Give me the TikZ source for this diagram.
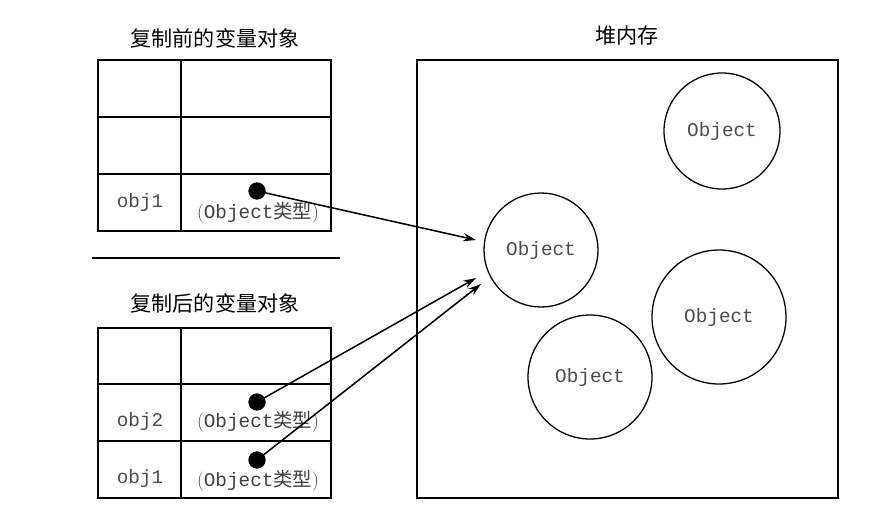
\documentclass[tikz,border=0pt]{standalone}
\usepackage{fontspec}
\newfontfamily\cjk{Noto Sans CJK SC}
\newfontfamily\mono{Liberation Mono}
\usetikzlibrary{arrows.meta}
\begin{document}
\begin{tikzpicture}[x=0.03cm,y=-0.03cm,
  cell/.style={draw,line width=1.1pt},
  mt/.style={font=\mono\fontsize{16.5}{16.5}\selectfont,text=black!70},
  ty/.style={font=\fontsize{16.5}{16.5}\selectfont,text=black!75,inner sep=0pt},
  ttl/.style={font=\cjk\fontsize{18}{18}\selectfont},
  obj/.style={draw,circle,line width=1.1pt,font=\mono\fontsize{16.5}{16.5}\selectfont,text=black!70},
  dot/.style={circle,fill=black,inner sep=0pt,minimum size=0.52cm},
  arr/.style={-{Stealth[length=11pt,width=7pt]},line width=1.3pt,shorten <=-2pt}]
\useasboundingbox (0,0) rectangle (880,526);
\node[ttl] (t1) at (215,38) {复制前的变量对象};
\node[ttl] (t2) at (215,303) {复制后的变量对象};
\node[ttl] (t3) at (627,36) {堆内存};
% top table
\draw[cell] (98,60) rectangle (331,231);
\draw[cell] (181,60) -- (181,231) (98,117) -- (331,117) (98,174) -- (331,174);
\node[mt] (o1) at (140,202) {obj1};
\node[ty] (ty1) at (258,213) {({\mono Object}{\cjk 类型})};
\draw[line width=2pt] (92,258) -- (340,258);
% bottom table
\draw[cell] (98,328) rectangle (331,498);
\draw[cell] (181,328) -- (181,498) (98,384) -- (331,384) (98,441) -- (331,441);
\node[mt] (o2) at (140,421) {obj2};
\node[mt] (o3) at (140,478) {obj1};
\node[ty] (ty2) at (258,422) {({\mono Object}{\cjk 类型})};
\node[ty] (ty3) at (258,481) {({\mono Object}{\cjk 类型})};
% heap
\draw[cell] (417,60) rectangle (838,498);
\node[obj,minimum size=116*0.03cm] (c1) at (722,131) {Object};
\node[obj,minimum size=114*0.03cm] (c2) at (541,250) {Object};
\node[obj,minimum size=134*0.03cm] (c3) at (719,317) {Object};
\node[obj,minimum size=124*0.03cm] (c4) at (590,377) {Object};
\node[dot] (d1) at (257,191) {};
\node[dot] (d2) at (257,402) {};
\node[dot] (d3) at (257,460) {};
\coordinate (e1) at (476,240);
\coordinate (e2) at (476,278);
\coordinate (e3) at (481,284);
\draw[arr] (d1.center) -- (e1);
\draw[arr] (d2.center) -- (e2);
\draw[arr] (d3.center) -- (e3);
\end{tikzpicture}
\end{document}
